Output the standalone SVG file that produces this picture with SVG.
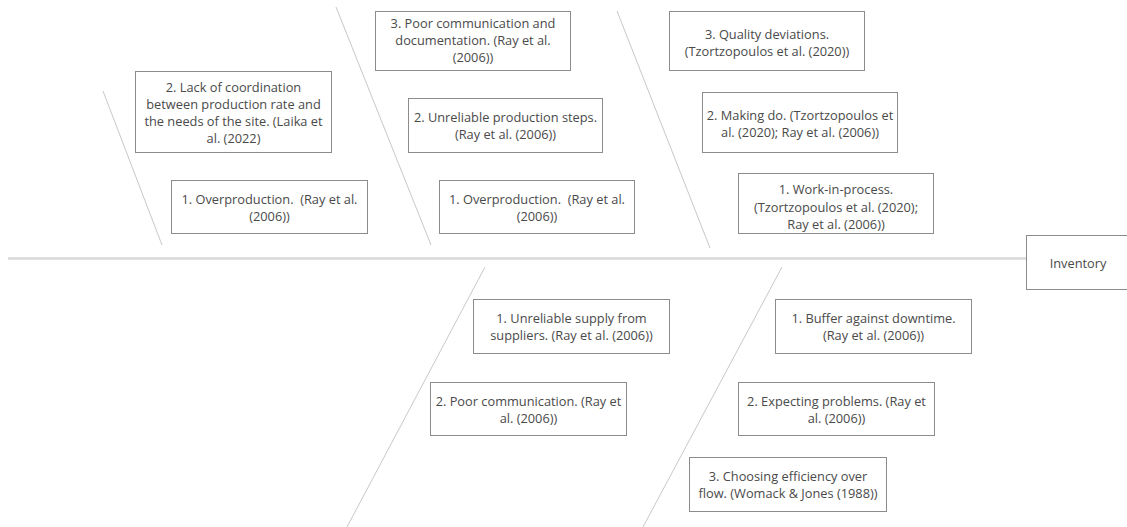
<svg xmlns="http://www.w3.org/2000/svg" width="1127" height="527" viewBox="0 0 1127 527">
  <style>
    .bone { stroke: #c8c8c8; stroke-width: 1; fill: none; }
    .spine { stroke: #d9d9d9; stroke-width: 2.5; fill: none; }
    .box { fill: #ffffff; stroke: #8c8c8c; stroke-width: 1; }
    .lbl { font-family: "Open Sans", "Noto Sans", "Liberation Sans", sans-serif; font-size: 12.8px; fill: #4a4a4a; text-anchor: middle; white-space: pre; }
  </style>
  <rect width="1127" height="527" fill="#ffffff"/>

  <!-- fishbone spine and ribs -->
  <g id="connectors">
    <line class="spine" x1="8" y1="258.5" x2="1026" y2="258.5"/>
    <line class="bone" x1="103" y1="91" x2="162" y2="245"/>
    <line class="bone" x1="336" y1="7" x2="431" y2="245"/>
    <line class="bone" x1="617" y1="11" x2="710" y2="248"/>
    <line class="bone" x1="485" y1="267" x2="347" y2="527"/>
    <line class="bone" x1="782" y1="267" x2="643" y2="527"/>
  </g>

  <g id="lack-of-coordination">
    <rect class="box" x="135.5" y="71.5" width="196" height="81"/>
    <text class="lbl" x="233.5" y="92"><tspan x="233.5">2. Lack of coordination</tspan><tspan x="233.5" dy="17">between production rate and</tspan><tspan x="233.5" dy="17">the needs of the site. (Laika et</tspan><tspan x="233.5" dy="17">al. (2022)</tspan></text>
  </g>

  <g id="overproduction-left">
    <rect class="box" x="171.5" y="180.5" width="196" height="53"/>
    <text class="lbl" x="269.5" y="204"><tspan x="269.5">1. Overproduction.  (Ray et al.</tspan><tspan x="269.5" dy="17">(2006))</tspan></text>
  </g>

  <g id="poor-communication-documentation">
    <rect class="box" x="375.5" y="11.5" width="195" height="59"/>
    <text class="lbl" x="473" y="28"><tspan x="473">3. Poor communication and</tspan><tspan x="473" dy="17">documentation. (Ray et al.</tspan><tspan x="473" dy="17">(2006))</tspan></text>
  </g>

  <g id="unreliable-production-steps">
    <rect class="box" x="408.5" y="98.5" width="194" height="54"/>
    <text class="lbl" x="505.5" y="122"><tspan x="505.5">2. Unreliable production steps.</tspan><tspan x="505.5" dy="17">(Ray et al. (2006))</tspan></text>
  </g>

  <g id="overproduction-middle">
    <rect class="box" x="439.5" y="180.5" width="195" height="53"/>
    <text class="lbl" x="537" y="204"><tspan x="537">1. Overproduction.  (Ray et al.</tspan><tspan x="537" dy="17">(2006))</tspan></text>
  </g>

  <g id="quality-deviations">
    <rect class="box" x="669.5" y="11.5" width="195" height="59"/>
    <text class="lbl" x="767" y="39"><tspan x="767">3. Quality deviations.</tspan><tspan x="767" dy="17">(Tzortzopoulos et al. (2020))</tspan></text>
  </g>

  <g id="making-do">
    <rect class="box" x="702.5" y="92.5" width="195" height="60"/>
    <text class="lbl" x="800" y="120"><tspan x="800">2. Making do. (Tzortzopoulos et</tspan><tspan x="800" dy="17">al. (2020); Ray et al. (2006))</tspan></text>
  </g>

  <g id="work-in-process">
    <rect class="box" x="738.5" y="173.5" width="195" height="60"/>
    <text class="lbl" x="836" y="194"><tspan x="836">1. Work-in-process.</tspan><tspan x="836" dy="17.5">(Tzortzopoulos et al. (2020);</tspan><tspan x="836" dy="17.5">Ray et al. (2006))</tspan></text>
  </g>

  <g id="inventory">
    <rect class="box" x="1026.5" y="235.5" width="110" height="54"/>
    <text class="lbl" x="1078" y="268">Inventory</text>
  </g>

  <g id="unreliable-supply">
    <rect class="box" x="473.5" y="299.5" width="196" height="54"/>
    <text class="lbl" x="571.5" y="323"><tspan x="571.5">1. Unreliable supply from</tspan><tspan x="571.5" dy="17">suppliers. (Ray et al. (2006))</tspan></text>
  </g>

  <g id="poor-communication">
    <rect class="box" x="430.5" y="382.5" width="196" height="53"/>
    <text class="lbl" x="528.5" y="406"><tspan x="528.5">2. Poor communication. (Ray et</tspan><tspan x="528.5" dy="17">al. (2006))</tspan></text>
  </g>

  <g id="buffer-against-downtime">
    <rect class="box" x="775.5" y="299.5" width="196" height="54"/>
    <text class="lbl" x="873.5" y="323"><tspan x="873.5">1. Buffer against downtime.</tspan><tspan x="873.5" dy="17">(Ray et al. (2006))</tspan></text>
  </g>

  <g id="expecting-problems">
    <rect class="box" x="738.5" y="382.5" width="196" height="53"/>
    <text class="lbl" x="836.5" y="406"><tspan x="836.5">2. Expecting problems. (Ray et</tspan><tspan x="836.5" dy="17">al. (2006))</tspan></text>
  </g>

  <g id="efficiency-over-flow">
    <rect class="box" x="689.5" y="457.5" width="197" height="54"/>
    <text class="lbl" x="788" y="481"><tspan x="788">3. Choosing efficiency over</tspan><tspan x="788" dy="17">flow. (Womack &amp; Jones (1988))</tspan></text>
  </g>
</svg>
